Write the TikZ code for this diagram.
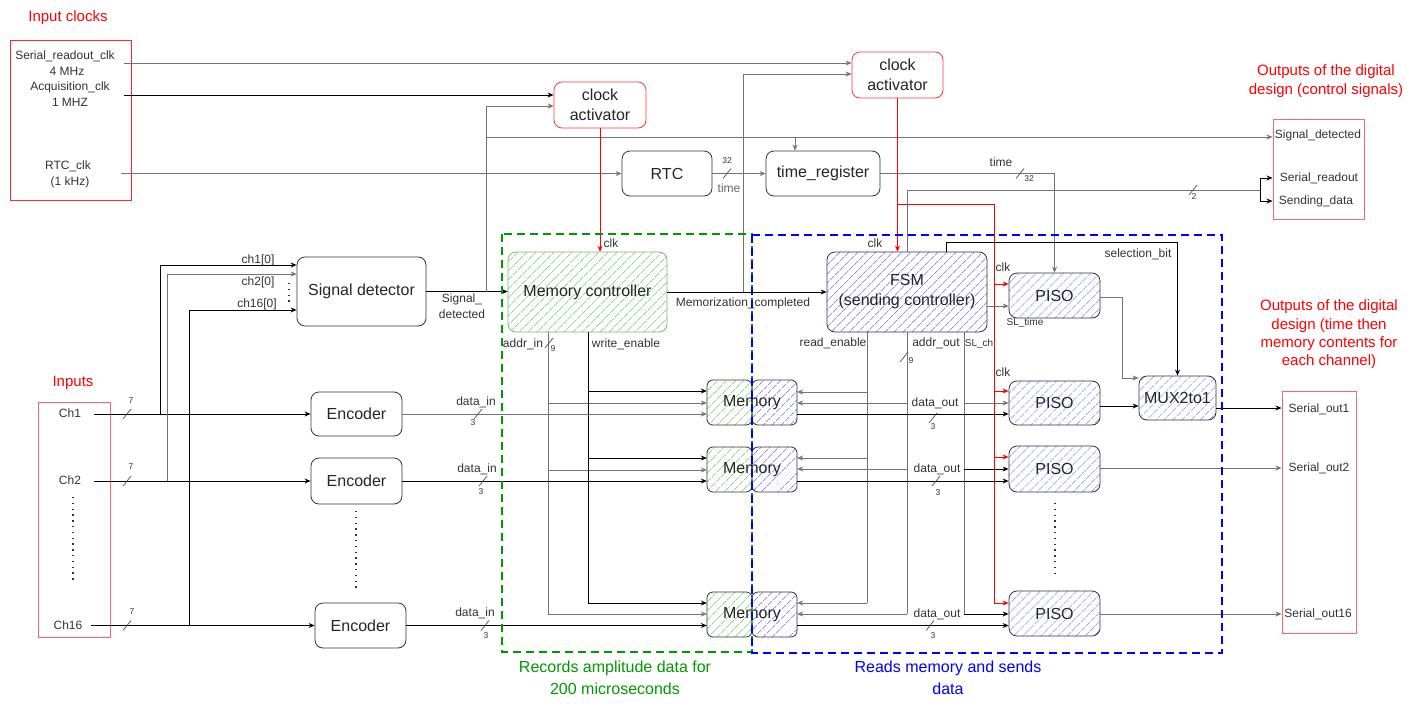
\documentclass[tikz,border=0pt]{standalone}
\usepackage{fontspec}
\setmainfont{Liberation Sans}
\usetikzlibrary{arrows.meta,patterns.meta,calc}
\definecolor{hgreen}{HTML}{5CB85C}
\definecolor{hblue}{HTML}{4D4DFF}
\definecolor{mcb}{HTML}{82B366}
\definecolor{gtext}{HTML}{009900}
\definecolor{lred}{HTML}{FF6666}
\newcommand\memblock[3]{%
  \draw[memhalf, greenhatch] (#2-45,#3-22.5) rectangle (#2,#3+22.5);
  \draw[memhalf, bluehatch] (#2,#3-22.5) rectangle (#2+45,#3+22.5);
  \node[blkfont, minimum width=90pt, minimum height=45pt, inner sep=0pt] (#1) at (#2,#3) {Memory};
}
\newcommand\busslash[2]{\draw[black!70, line width=0.7pt] (#1-4,#2+5) -- (#1+4,#2-5);}
\begin{document}
\begin{tikzpicture}[x=1pt,y=-1pt,
  font=\fontsize{12}{14}\selectfont,
  txt/.style={text=black!80, inner sep=0pt},
  tiny/.style={text=black!80, inner sep=0pt, font=\fontsize{8.5}{10}\selectfont},
  wire/.style={draw=black!55, line width=0.8pt},
  bwire/.style={draw=black, line width=0.9pt},
  rwire/.style={draw=red, line width=0.9pt},
  arr/.style={-{Stealth[length=6pt,width=5pt]}},
  blkfont/.style={font=\fontsize{16}{20}\selectfont, text=black!85},
  blk/.style={draw=black!80, rounded corners=8pt, line width=0.8pt, align=center, blkfont, inner sep=0pt},
  greenhatch/.style={pattern={Lines[angle=45,distance=6.5pt,line width=0.45pt]}, pattern color=hgreen},
  bluehatch/.style={pattern={Lines[angle=45,distance=6.5pt,line width=0.45pt]}, pattern color=hblue},
  memhalf/.style={draw=black!80, rounded corners=6pt, line width=0.8pt},
  obox/.style={draw=lred, line width=1pt, inner sep=0pt},
  dotline/.style={draw=black!80, line width=1.3pt, dash pattern=on 1.3pt off 4.5pt},
  title/.style={text=red, font=\fontsize{15}{18.3}\selectfont, align=center, inner sep=0pt}
]
\fill[white] (0,0) rectangle (1407,709);
\useasboundingbox (0,0) rectangle (1407,709);

% ---------- outer boxes and titles ----------
\node[title] (tclk) at (68,18) {Input clocks};
\node[obox, draw=red!85, minimum width=121pt, minimum height=159pt] (clkbox) at (70.5,120.5) {};
\node[txt] (tsr) at (65,56) {Serial\_readout\_clk};
\node[txt] (tsr2) at (67,71) {4 MHz};
\node[txt] (tacq) at (70,87) {Acquisition\_clk};
\node[txt] (tacq2) at (70,102) {1 MHZ};
\node[txt] (trtc) at (68,166) {RTC\_clk};
\node[txt] (trtc2) at (70,182) {(1 kHz)};

\node[title] (tin) at (73,383) {Inputs};
\node[obox, minimum width=72pt, minimum height=235pt] (inbox) at (74,519.5) {};
\node[txt] (tch1) at (70,413) {Ch1};
\node[txt] (tch2) at (70,480) {Ch2};
\node[txt] (tch16) at (68,625) {Ch16};
\draw[dotline] (73,497) -- (73,583);

\node[title] (tctl) at (1326,81) {Outputs of the digital\\design (control signals)};
\node[obox, minimum width=91pt, minimum height=100pt] (ctlbox) at (1318.5,169) {};
\node[txt] (tsd) at (1318,135) {Signal\_detected};
\node[txt] (tsro) at (1319,178) {Serial\_readout};
\node[txt] (tsnd) at (1316,201) {Sending\_data};

\node[title] (tout) at (1329,334.5) {Outputs of the digital\\design (time then\\memory contents for\\each channel)};
\node[obox, minimum width=74pt, minimum height=242pt] (outbox) at (1319,512) {};
\node[txt] (to1) at (1319,409) {Serial\_out1};
\node[txt] (to2) at (1319,468) {Serial\_out2};
\node[txt] (to16) at (1318,614) {Serial\_out16};

% ---------- blocks ----------
\node[blk, draw=red!80, minimum width=92pt, minimum height=46pt] (ca1) at (600,105) {clock\\activator};
\node[blk, draw=red!80, minimum width=91pt, minimum height=46pt] (ca2) at (897.5,75) {clock\\activator};
\node[blk, minimum width=90pt, minimum height=45pt] (rtc) at (667,173.5) {RTC};
\node[blk, minimum width=114pt, minimum height=45pt] (treg) at (823,173.5) {time\_register};
\node[blk, minimum width=129pt, minimum height=69pt] (sigdet) at (361.5,291.5) {Signal detector};
\node[blk, draw=mcb, greenhatch, minimum width=159pt, minimum height=80pt] (mc) at (587.5,292) {Memory controller};
\node[blk, bluehatch, minimum width=160pt, minimum height=80pt] (fsm) at (907,292) {FSM\\(sending controller)};
\node[blk, minimum width=91pt, minimum height=44pt] (enc1) at (356.5,414) {Encoder};
\node[blk, minimum width=91pt, minimum height=46pt] (enc2) at (356.5,481) {Encoder};
\node[blk, minimum width=91pt, minimum height=45pt] (enc16) at (360.5,625.5) {Encoder};
\draw[dotline] (356,511) -- (356,592);
\memblock{mem1}{752}{402.5}
\memblock{mem2}{752}{469.5}
\memblock{mem16}{752}{614.5}
\node[blk, bluehatch, minimum width=91pt, minimum height=45pt] (piso1) at (1054.5,295.5) {PISO};
\node[blk, bluehatch, minimum width=91pt, minimum height=44pt] (piso2) at (1054.5,403) {PISO};
\node[blk, bluehatch, minimum width=91pt, minimum height=46pt] (piso3) at (1054.5,469) {PISO};
\node[blk, bluehatch, minimum width=91pt, minimum height=45pt] (piso16) at (1054.5,613.5) {PISO};
\draw[dotline] (1055,503) -- (1055,578);
\node[blk, bluehatch, minimum width=77pt, minimum height=44pt] (mux) at (1177.5,398) {MUX2to1};

% ---------- clock wires ----------
\coordinate (srclk) at (124,63);
\draw[wire,arr] (srclk) -- (srclk -| ca2.west);
\coordinate (acqclk) at (124,95);
\draw[bwire,arr] (acqclk) -- (acqclk -| ca1.west);
\coordinate (rtcclk) at (121,173.5);
\draw[wire,arr] (rtcclk) -- (rtc.west);

% signal detector output
\draw[bwire,arr] (sigdet.east) -- (sigdet.east -| mc.west);
\node[txt] (lsd1) at (462,299) {Signal\_};
\node[txt] (lsd2) at (462,314) {detected};
\coordinate (sdj) at (486,291.5);
\draw[wire,arr] (sdj) -- (486,106) -- (ca1.west |- 0,106);
\coordinate (sdj2) at (486,137);
\draw[wire,arr] (sdj2) -- (ctlbox.west |- 0,137);
\coordinate (trj) at (795,137);
\draw[wire,arr] (trj) -- (795,137 |- treg.north);

% RTC -> time_register
\draw[wire,arr] (rtc.east) -- (treg.west);
\busslash{727}{173.5}
\node[tiny] (l32a) at (727,161) {32};
\node[txt, text=black!60] (ltime1) at (729,188) {time};

% time_register -> PISO1
\draw[wire,arr] (treg.east) -| (piso1.north);
\node[txt] (ltime2) at (1001,162) {time};
\busslash{1020}{173.5}
\node[tiny] (l32b) at (1029,179) {32};

% clock activators -> controllers (red)
\draw[rwire,arr] (ca1.south) -- (ca1.south |- mc.north);
\node[txt] (lclk1) at (611,243) {clk};
\draw[rwire,arr] (ca2.south) -- (ca2.south |- fsm.north);
\node[txt] (lclk2) at (875,243) {clk};
\coordinate (rj) at (897.5,204);
\draw[rwire] (rj) -- (994,204) -- (994,603);
\draw[rwire,arr] (994,284) -- (piso1.west |- 0,284);
\draw[rwire,arr] (994,391) -- (piso2.west |- 0,391);
\draw[rwire,arr] (994,457) -- (piso3.west |- 0,457);
\draw[rwire,arr] (994,603) -- (piso16.west |- 0,603);
\node[txt] (lclk3) at (1003,267) {clk};
\node[txt] (lclk4) at (1003,372) {clk};

% memory controller -> FSM
\draw[bwire,arr] (mc.east) -- (fsm.west);
\node[txt] (lmemc) at (743,303) {Memorization\_completed};
\coordinate (mcj) at (743,292);
\draw[wire,arr] (mcj) -- (743,74) -- (ca2.west |- 0,74);

% FSM -> control outputs
\draw[wire] (fsm.north) |- (1260,190);
\busslash{1193}{190}
\node[tiny] (l2) at (1194,197) {2};
\draw[bwire] (1260,178) -- (1260,201);
\draw[bwire,arr] (1260,178) -- (ctlbox.west |- 0,178);
\draw[bwire,arr] (1260,201) -- (ctlbox.west |- 0,201);

% selection bit
\draw[bwire,arr] (946,0 |- fsm.north) -- (946,242) -| (mux.north);
\node[txt] (lsel) at (1138,254) {selection\_bit};

% SL_time
\draw[wire,arr] (fsm.east |- 0,306) -- (piso1.west |- 0,306);
\node[txt, font=\fontsize{10}{12}\selectfont] (lslt) at (1025,323) {SL\_time};

% PISO -> MUX -> outputs
\draw[wire,arr] (piso1.east |- 0,297) -- (1122,297) |- (mux.west |- 0,378);
\draw[bwire,arr] (piso2.east |- 0,406) -- (mux.west |- 0,406);
\draw[bwire,arr] (mux.east |- 0,408) -- (outbox.west |- 0,408);
\draw[wire,arr] (piso3.east |- 0,468) -- (outbox.west |- 0,468);
\draw[wire,arr] (piso16.east |- 0,614) -- (outbox.west |- 0,614);

% memory controller -> memories
\draw[wire] (548,0 |- mc.south) -- (548,614);
\draw[wire,arr] (548,403) -- (mem1.west |- 0,403);
\draw[wire,arr] (548,470) -- (mem2.west |- 0,470);
\draw[wire,arr] (548,614) -- (mem16.west |- 0,614);
\node[txt] (laddrin) at (523,344) {addr\_in};
\busslash{549}{343}
\node[tiny] (l9a) at (553,349) {9};
\draw[bwire] (588,0 |- mc.south) -- (588,603);
\draw[bwire,arr] (588,391) -- (mem1.west |- 0,391);
\draw[bwire,arr] (588,458) -- (mem2.west |- 0,458);
\draw[bwire,arr] (588,603) -- (mem16.west |- 0,603);
\node[txt] (lwe) at (626,344) {write\_enable};

% encoders -> memories
\draw[wire,arr] (enc1.east) -- (enc1.east -| mem1.west);
\draw[bwire,arr] (enc2.east) -- (enc2.east -| mem2.west);
\draw[bwire,arr] (enc16.east) -- (enc16.east -| mem16.west);
\node[txt] (ldi1) at (476,402) {data\_in};
\busslash{478}{414}
\node[tiny] (l3a) at (473,423) {3};
\node[txt] (ldi2) at (477,469) {data\_in};
\busslash{483}{481}
\node[tiny] (l3b) at (481,492) {3};
\node[txt] (ldi16) at (475,613) {data\_in};
\busslash{485}{625.5}
\node[tiny] (l3c) at (486,636) {3};

% FSM -> memories
\draw[wire] (867,0 |- fsm.south) -- (867,603);
\draw[wire,arr] (867,392) -- (mem1.east |- 0,392);
\draw[wire,arr] (867,458) -- (mem2.east |- 0,458);
\draw[wire,arr] (867,603) -- (mem16.east |- 0,603);
\node[txt] (lre) at (833,343) {read\_enable};
\draw[wire] (fsm.south) -- (907,614);
\draw[wire,arr] (907,403) -- (mem1.east |- 0,403);
\draw[wire,arr] (907,469) -- (mem2.east |- 0,469);
\draw[wire,arr] (907,614) -- (mem16.east |- 0,614);
\node[txt] (lao) at (936,343) {addr\_out};
\busslash{904}{357}
\node[tiny] (l9b) at (911,361) {9};
\draw[wire] (964,0 |- fsm.south) -- (964,614);
\draw[wire,arr] (964,403) -- (piso2.west |- 0,403);
\draw[bwire,arr] (964,469) -- (piso3.west |- 0,469);
\draw[bwire,arr] (964,614) -- (piso16.west |- 0,614);
\node[txt, font=\fontsize{10}{12}\selectfont] (lslch) at (979,344) {SL\_ch};

% memories -> PISOs
\draw[bwire,arr] (mem1.east |- 0,414) -- (piso2.west |- 0,414);
\draw[bwire,arr] (mem2.east |- 0,481) -- (piso3.west |- 0,481);
\draw[bwire,arr] (mem16.east |- 0,625.5) -- (piso16.west |- 0,625.5);
\node[txt] (ldo1) at (935,403) {data\_out};
\busslash{933}{418}
\node[tiny] (l3d) at (933,427) {3};
\node[txt] (ldo2) at (937,469) {data\_out};
\busslash{936}{481}
\node[tiny] (l3e) at (938,493) {3};
\node[txt] (ldo16) at (937,614) {data\_out};
\busslash{930}{625.5}
\node[tiny] (l3f) at (933,636) {3};

% inputs -> encoders and signal detector
\coordinate (ch1s) at (94,414);
\draw[bwire,arr] (ch1s) -- (enc1.west);
\coordinate (ch2s) at (94,481);
\draw[bwire,arr] (ch2s) -- (enc2.west);
\coordinate (ch16s) at (91,625.5);
\draw[bwire,arr] (ch16s) -- (enc16.west);
\busslash{127}{414}
\node[tiny] (l7a) at (131,401) {7};
\busslash{127}{481}
\node[tiny] (l7b) at (131,467) {7};
\busslash{127}{625.5}
\node[tiny] (l7c) at (132,612) {7};
\draw[bwire,arr] (160,414) |- (sigdet.west |- 0,265);
\draw[wire,arr] (167,481) |- (sigdet.west |- 0,274);
\draw[bwire,arr] (189,625.5) |- (sigdet.west |- 0,310);
\node[txt] (lc1) at (258,260) {ch1[0]};
\node[txt] (lc2) at (258,282) {ch2[0]};
\node[txt] (lc16) at (257,304) {ch16[0]};
\draw[dotline] (289,283) -- (289,303);

% ---------- dashed regions ----------
\draw[draw=gtext, line width=2.3pt, dash pattern=on 8pt off 5pt] (502,234) rectangle (752,652);
\draw[draw=blue, line width=2.3pt, dash pattern=on 8pt off 5pt] (752,235) rectangle (1222,653);
\node[align=center, text=gtext, font=\fontsize{16}{22}\selectfont, inner sep=0pt] (lrec) at (615,678) {Records amplitude data for\\200 microseconds};
\node[align=center, text=blue, font=\fontsize{16}{22}\selectfont, inner sep=0pt] (lread) at (948,678) {Reads memory and sends\\data};
\end{tikzpicture}
\end{document}
